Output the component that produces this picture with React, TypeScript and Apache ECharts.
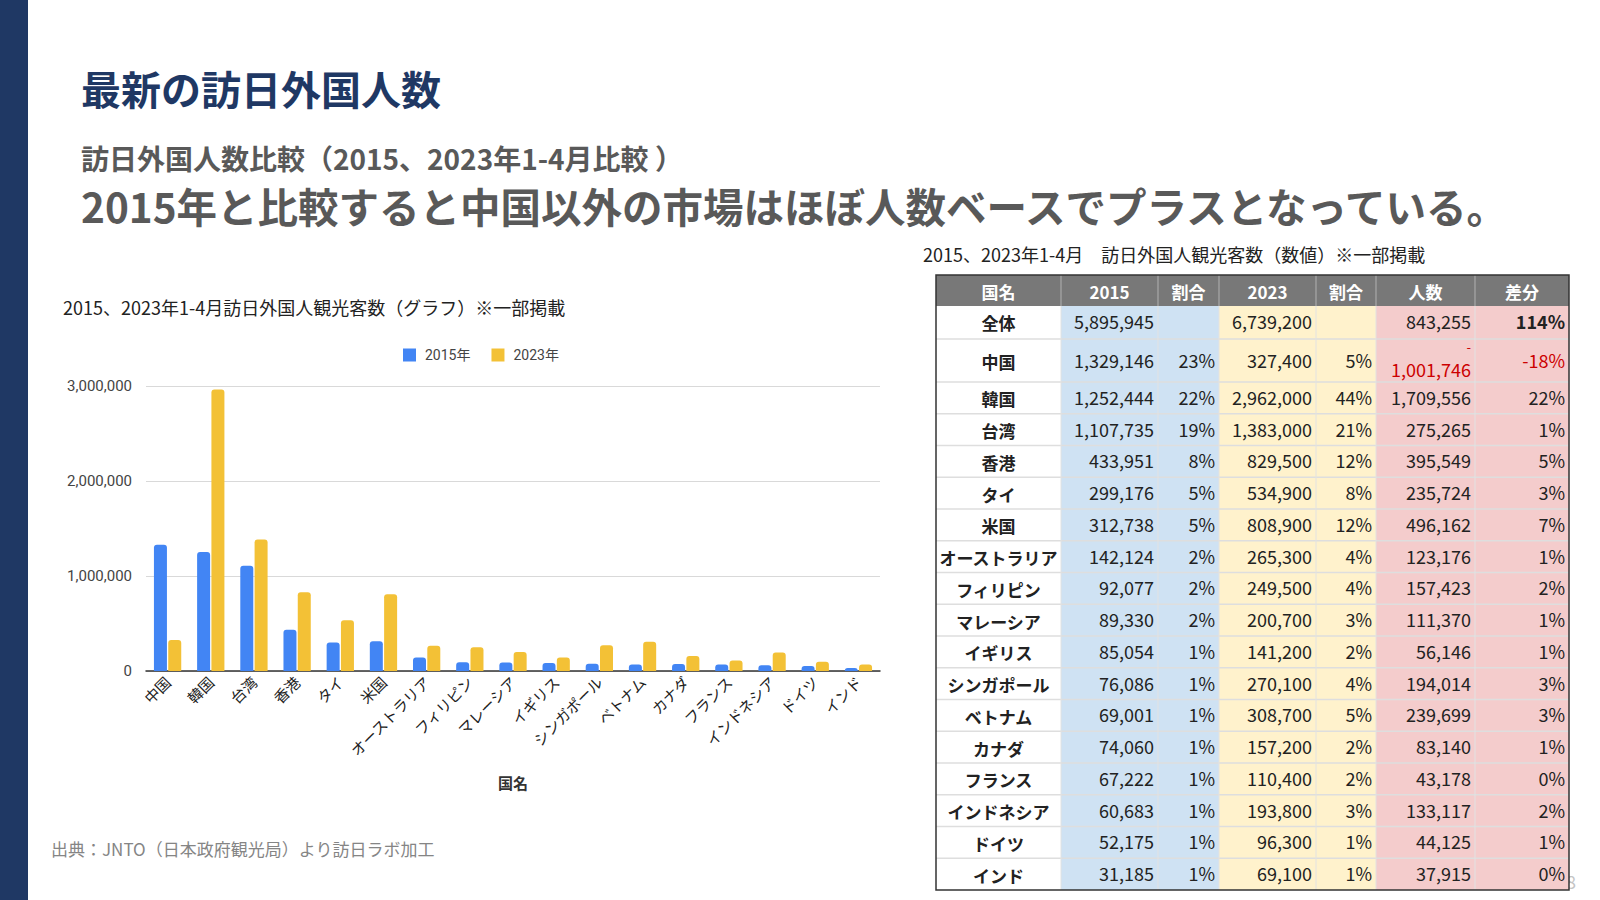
import React, { useEffect, useRef } from "react";
import * as echarts from "echarts";

// ---------- data ----------
const countries = [
  "中国", "韓国", "台湾", "香港", "タイ", "米国", "オーストラリア", "フィリピン", "マレーシア",
  "イギリス", "シンガポール", "ベトナム", "カナダ", "フランス", "インドネシア", "ドイツ", "インド",
];
const visitors2015 = [
  1329146, 1252444, 1107735, 433951, 299176, 312738, 142124, 92077, 89330,
  85054, 76086, 69001, 74060, 67222, 60683, 52175, 31185,
];
const visitors2023 = [
  327400, 2962000, 1383000, 829500, 534900, 808900, 265300, 249500, 200700,
  141200, 270100, 308700, 157200, 110400, 193800, 96300, 69100,
];
const share2015 = ["23%", "22%", "19%", "8%", "5%", "5%", "2%", "2%", "2%", "1%", "1%", "1%", "1%", "1%", "1%", "1%", "1%"];
const share2023 = ["5%", "44%", "21%", "12%", "8%", "12%", "4%", "4%", "3%", "2%", "4%", "5%", "2%", "2%", "3%", "1%", "1%"];
const diffCount = [
  -1001746, 1709556, 275265, 395549, 235724, 496162, 123176, 157423, 111370,
  56146, 194014, 239699, 83140, 43178, 133117, 44125, 37915,
];
const diffShare = ["-18%", "22%", "1%", "5%", "3%", "7%", "1%", "2%", "1%", "1%", "3%", "3%", "1%", "0%", "2%", "1%", "0%"];

const totalLabel = "全体";
const total2015 = 5895945;
const total2023 = 6739200;
const totalDiffCount = 843255;
const totalDiffShare = "114%";

const tableHeaders = ["国名", "2015", "割合", "2023", "割合", "人数", "差分"];
const legendNames = ["2015年", "2023年"];
const yMin = 0;
const yMax = 3000000;
const yInterval = 1000000;

// ---------- texts ----------
const pageTitle = "最新の訪日外国人数";
const subTitle = "訪日外国人数比較（2015、2023年1-4月比較 ）";
const headline = "2015年と比較すると中国以外の市場はほぼ人数ベースでプラスとなっている。";
const chartTitle = "2015、2023年1-4月訪日外国人観光客数（グラフ）※一部掲載";
const tableTitle = "2015、2023年1-4月　訪日外国人観光客数（数値）※一部掲載";
const sourceText = "出典：JNTO（日本政府観光局）より訪日ラボ加工";
const xAxisName = "国名";

const FONT = "'Noto Sans CJK JP', 'Noto Sans', sans-serif";
const NUMFONT = "Roboto, 'Noto Sans CJK JP', sans-serif";
const BLUE = "#4285f4";
const YELLOW = "#f3c136";

const fmt = (n: number) => Math.abs(n).toLocaleString("en-US");

function txt(text: string, x: number, y: number, o: any = {}) {
  const style: any = {
    text,
    fontSize: o.size ?? 18,
    fontFamily: o.family ?? FONT,
    fontWeight: o.weight ?? "normal",
    fill: o.fill ?? "#222",
    textAlign: o.align ?? "left",
    textVerticalAlign: "middle",
  };
  return { type: "text", x, y, z: o.z ?? 20, style };
}

function buildTable() {
  const cols = [936, 1061, 1158, 1219, 1316, 1376, 1475, 1569];
  const top = 275;
  const heights = [31, 33, 43];
  for (let i = 1; i < countries.length; i++) heights.push(31.75);
  const tops: number[] = [];
  let y = top;
  for (const h of heights) {
    tops.push(y);
    y += h;
  }
  const bottom = y;
  const colFill = ["#ffffff", "#cfe2f3", "#cfe2f3", "#fff2cc", "#fff2cc", "#f4cccc", "#f4cccc"];
  const els: any[] = [];
  const W = cols[7] - cols[0];

  for (let c = 0; c < 7; c++) {
    els.push({
      type: "rect",
      z: 10,
      shape: { x: cols[c], y: tops[1], width: cols[c + 1] - cols[c], height: bottom - tops[1] },
      style: { fill: colFill[c] },
    });
  }
  els.push({
    type: "rect",
    z: 10,
    shape: { x: cols[0], y: top, width: W, height: heights[0] },
    style: { fill: "#787878" },
  });
  for (let r = 2; r < tops.length; r++) {
    els.push({
      type: "line",
      z: 11,
      shape: { x1: cols[0], y1: tops[r], x2: cols[7], y2: tops[r] },
      style: { stroke: "#dedede", lineWidth: 1.5 },
    });
  }
  for (let c = 1; c < 7; c++) {
    els.push({
      type: "line",
      z: 11,
      shape: { x1: cols[c], y1: tops[1], x2: cols[c], y2: bottom },
      style: { stroke: "#e2e2e2", lineWidth: 1 },
    });
    els.push({
      type: "line",
      z: 11,
      shape: { x1: cols[c], y1: top, x2: cols[c], y2: tops[1] },
      style: { stroke: "#a8a8a8", lineWidth: 1.2 },
    });
  }
  tableHeaders.forEach((h, c) => {
    els.push(
      txt(h, (cols[c] + cols[c + 1]) / 2, top + heights[0] / 2 + 1, {
        size: 17,
        weight: "bold",
        fill: "#ffffff",
        align: "center",
      })
    );
  });
  const rows: any[] = [
    {
      name: totalLabel,
      cells: [fmt(total2015), "", fmt(total2023), "", fmt(totalDiffCount), totalDiffShare],
      neg: false,
      bold: true,
    },
  ];
  countries.forEach((n, i) => {
    rows.push({
      name: n,
      cells: [fmt(visitors2015[i]), share2015[i], fmt(visitors2023[i]), share2023[i], fmt(diffCount[i]), diffShare[i]],
      neg: diffCount[i] < 0,
      bold: false,
    });
  });
  rows.forEach((row, ri) => {
    const r = ri + 1;
    const cy = tops[r] + heights[r] / 2 + (ri === 0 ? -1 : 0);
    els.push(txt(row.name, (cols[0] + cols[1]) / 2, cy + 1, { size: 17, weight: "bold", align: "center", fill: "#222" }));
    row.cells.forEach((cell: string, k: number) => {
      const c = k + 1;
      const xr = cols[c + 1] - 4;
      if (!cell) return;
      if (c === 5 && row.neg) {
        els.push(txt("-", xr, tops[r] + 7, { size: 13, fill: "#cc0000", align: "right" }));
        els.push(txt(cell, xr, tops[r] + 30, { size: 18, fill: "#cc0000", align: "right" }));
        return;
      }
      const neg = c === 6 && cell.startsWith("-");
      els.push(
        txt(cell, xr, cy - 1, {
          size: 18,
          fill: neg ? "#cc0000" : "#222",
          weight: row.bold && c === 6 ? "bold" : "normal",
          align: "right",
        })
      );
    });
  });
  els.push({
    type: "rect",
    z: 30,
    shape: { x: cols[0], y: top, width: W, height: bottom - top },
    style: { fill: "none", stroke: "#333333", lineWidth: 1.5 },
  });
  return els;
}

export default function App() {
  const ref = useRef<HTMLDivElement>(null);
  useEffect(() => {
    if (!ref.current) return;
    const chart = echarts.init(ref.current, undefined, { renderer: "svg" });
    const graphics: any[] = [
      { type: "rect", z: 1, shape: { x: 0, y: 0, width: 28, height: 900 }, style: { fill: "#1f3864" } },
      txt(pageTitle, 81, 88, { size: 40, weight: "bold", fill: "#1f3864" }),
      txt(subTitle, 81, 158, { size: 28, weight: "bold", fill: "#595959" }),
      txt(headline, 81, 205, { size: 40.5, weight: "bold", fill: "#595959" }),
      txt(chartTitle, 63, 307, { size: 18, fill: "#222" }),
      txt(tableTitle, 923, 254, { size: 18, fill: "#222" }),
      txt(sourceText, 51, 848, { size: 17, fill: "#858585" }),
      txt("8", 1566, 881, { size: 18, fill: "#c4c4c4", z: 5 }),
      ...buildTable(),
    ];
    chart.setOption({
      animation: false,
      backgroundColor: "#ffffff",
      textStyle: { fontFamily: FONT },
      legend: {
        data: legendNames,
        left: 398,
        top: 343,
        icon: "rect",
        itemWidth: 13,
        itemHeight: 13,
        itemGap: 21,
        textStyle: { fontSize: 14, color: "#444", fontFamily: NUMFONT, padding: [0, 0, 0, 4] },
      },
      grid: { left: 146, right: 720, top: 386, bottom: 229, containLabel: false },
      xAxis: {
        type: "category",
        data: countries,
        name: xAxisName,
        nameLocation: "middle",
        nameGap: 104,
        nameTextStyle: { fontSize: 15, color: "#333", fontWeight: "bold", fontFamily: FONT },
        axisTick: { show: false },
        axisLine: { lineStyle: { color: "#333", width: 1.5 } },
        axisLabel: { rotate: 45, interval: 0, fontSize: 15, color: "#222", margin: 8, fontFamily: FONT },
      },
      yAxis: {
        type: "value",
        min: yMin,
        max: yMax,
        interval: yInterval,
        axisLine: { show: false },
        axisTick: { show: false },
        axisLabel: {
          fontSize: 15,
          color: "#444",
          margin: 14,
          fontFamily: NUMFONT,
          formatter: (v: number) => v.toLocaleString("en-US"),
        },
        splitLine: { lineStyle: { color: "#d9d9d9", width: 1.2 } },
      },
      series: [
        {
          name: legendNames[0],
          type: "bar",
          data: visitors2015,
          barWidth: 13,
          barGap: "10%",
          itemStyle: { color: BLUE, borderRadius: [3, 3, 0, 0] },
        },
        {
          name: legendNames[1],
          type: "bar",
          data: visitors2023,
          barWidth: 13,
          barGap: "10%",
          itemStyle: { color: YELLOW, borderRadius: [3, 3, 0, 0] },
        },
      ],
      graphic: { elements: graphics },
    });
    return () => chart.dispose();
  }, []);
  return (
    <div
      ref={ref}
      style={{ position: "fixed", left: 0, top: 0, width: 1600, height: 900, background: "#fff" }}
    />
  );
}
